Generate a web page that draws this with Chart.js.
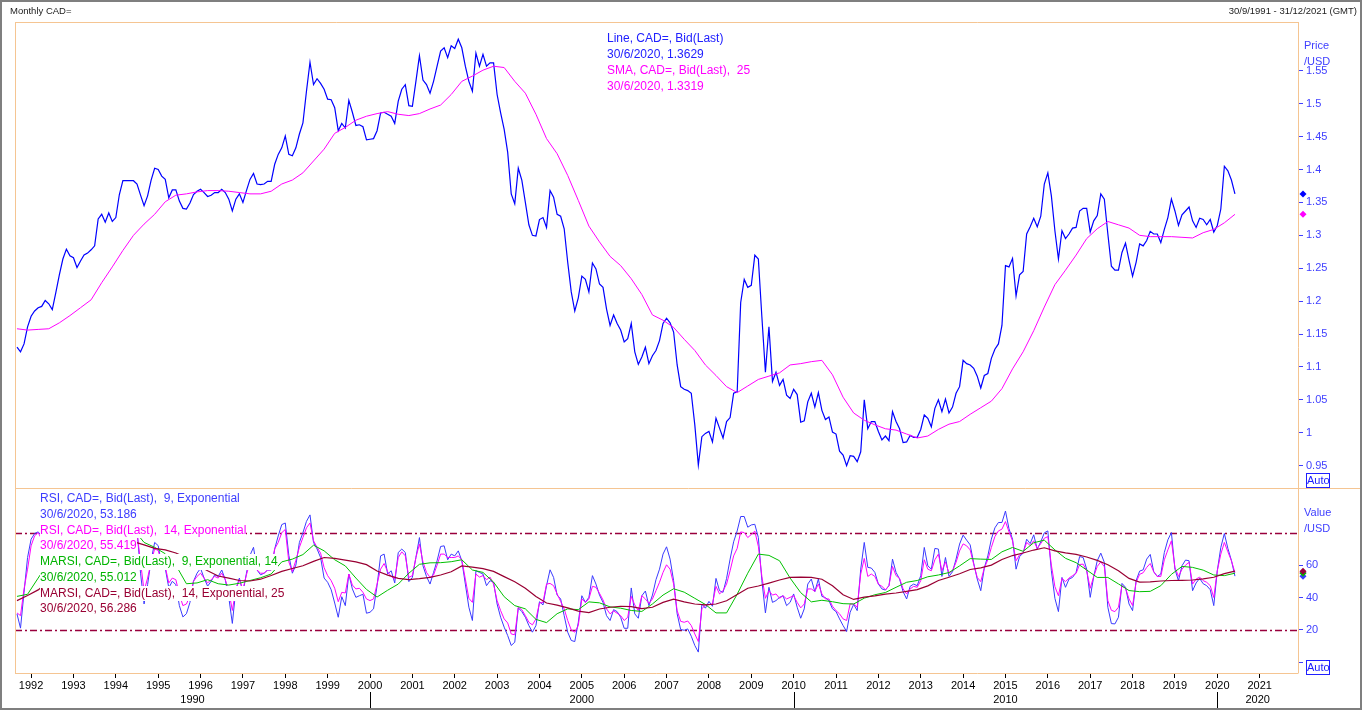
<!DOCTYPE html>
<html>
<head>
<meta charset="utf-8">
<title>Monthly CAD=</title>
<script src="https://cdn.jsdelivr.net/npm/chart.js@4.4.1/dist/chart.umd.min.js"></script>
<style>
  html, body { margin: 0; padding: 0; background: #fff; overflow: hidden; }
  #wrap { position: relative; width: 1362px; height: 710px; font-family: "Liberation Sans", Arial, sans-serif; }
  canvas { position: absolute; left: 0; top: 0; }
  .t { position: absolute; white-space: nowrap; }
  .hdr { font-size: 9.5px; line-height: 12px; color: #222; top: 5px; }
  .leg { font-size: 12px; }
  .leg span { display: block; width: fit-content; background: #fff; white-space: pre; }
  #legUp { left: 607px; top: 30px; line-height: 16px; }
  #legLow { left: 40px; top: 491px; line-height: 15.75px; }
  .axt { font-size: 11px; line-height: 16px; color: #4040ff; left: 1304px; }
  .auto { position: absolute; left: 1306px; width: 22px; height: 13px; border: 1px solid #2020ff;
          font-size: 11px; line-height: 13px; text-align: center; color: #2020ff; }
  .blue { color: #2020ff; } .rblue { color: #3c3cff; } .mag { color: #ff00ff; }
  .grn { color: #00b400; } .mar { color: #990033; }
</style>
</head>
<body>
<div id="wrap">
  <canvas id="c" width="1362" height="710"></canvas>

  <div class="t hdr" style="left:10px">Monthly CAD=</div>
  <div class="t hdr" style="right:5px">30/9/1991 - 31/12/2021 (GMT)</div>

  <div class="t leg" id="legUp"><span class="blue">Line, CAD=, Bid(Last)</span><span class="blue">30/6/2020, 1.3629</span><span class="mag">SMA, CAD=, Bid(Last),  25</span><span class="mag">30/6/2020, 1.3319</span></div>

  <div class="t leg" id="legLow"><span class="rblue">RSI, CAD=, Bid(Last),  9, Exponential</span><span class="rblue">30/6/2020, 53.186</span><span class="mag">RSI, CAD=, Bid(Last),  14, Exponential</span><span class="mag">30/6/2020, 55.419</span><span class="grn">MARSI, CAD=, Bid(Last),  9, Exponential, 14</span><span class="grn">30/6/2020, 55.012</span><span class="mar">MARSI, CAD=, Bid(Last),  14, Exponential, 25</span><span class="mar">30/6/2020, 56.286</span></div>

  <div class="t axt" style="top:37px">Price<br>/USD</div>
  <div class="t axt" style="top:504px">Value<br>/USD</div>
  <div class="auto" style="top:473px">Auto</div>
  <div class="auto" style="top:660px">Auto</div>
</div>

<script>
// monthly closes, first point Sep 1991
const START = 1991 + 8 / 12;

const price = [
  1.130, 1.123, 1.135, 1.161,
  1.177, 1.185, 1.190, 1.192, 1.201, 1.196, 1.187, 1.213, 1.240, 1.264, 1.279, 1.269,
  1.266, 1.251, 1.261, 1.270, 1.273, 1.278, 1.284, 1.325, 1.332, 1.320, 1.334, 1.321,
  1.327, 1.362, 1.383, 1.383, 1.383, 1.383, 1.378, 1.361, 1.345, 1.360, 1.384, 1.402,
  1.400, 1.390, 1.385, 1.357, 1.369, 1.369, 1.352, 1.341, 1.340, 1.349, 1.362, 1.367,
  1.370, 1.365, 1.359, 1.361, 1.365, 1.365, 1.370, 1.365, 1.355, 1.337, 1.355, 1.363,
  1.350, 1.368, 1.385, 1.394, 1.378, 1.377, 1.378, 1.382, 1.382, 1.408, 1.423, 1.433,
  1.451, 1.423, 1.421, 1.433, 1.454, 1.471, 1.519, 1.563, 1.529, 1.538, 1.531, 1.522,
  1.507, 1.506, 1.494, 1.459, 1.470, 1.463, 1.505, 1.487, 1.467, 1.468, 1.465, 1.445,
  1.446, 1.447, 1.459, 1.486, 1.487, 1.484, 1.481, 1.470, 1.504, 1.522, 1.529, 1.497,
  1.496, 1.534, 1.573, 1.536, 1.529, 1.516, 1.534, 1.557, 1.580, 1.585, 1.570, 1.588,
  1.584, 1.598, 1.585, 1.557, 1.534, 1.519, 1.577, 1.557, 1.575, 1.557, 1.562, 1.562,
  1.514, 1.486, 1.461, 1.426, 1.363, 1.348, 1.402, 1.384, 1.350, 1.316, 1.300, 1.299,
  1.324, 1.327, 1.312, 1.368, 1.358, 1.332, 1.329, 1.310, 1.259, 1.214, 1.185, 1.205,
  1.238, 1.233, 1.214, 1.258, 1.249, 1.226, 1.221, 1.188, 1.163, 1.179, 1.166, 1.156,
  1.138, 1.143, 1.166, 1.123, 1.104, 1.115, 1.130, 1.105, 1.117, 1.125, 1.140, 1.166,
  1.174, 1.167, 1.153, 1.103, 1.070, 1.066, 1.064, 1.060, 1.012, 0.951, 0.994, 0.999,
  1.002, 0.986, 1.022, 1.007, 0.992, 1.017, 1.023, 1.060, 1.062, 1.198, 1.233, 1.221,
  1.224, 1.270, 1.264, 1.176, 1.092, 1.161, 1.078, 1.092, 1.072, 1.081, 1.057, 1.052,
  1.066, 1.058, 1.016, 1.018, 1.047, 1.060, 1.039, 1.061, 1.034, 1.020, 1.024, 1.001,
  0.998, 0.972, 0.966, 0.950, 0.965, 0.964, 0.956, 0.971, 1.050, 1.006, 1.017, 1.017,
  1.002, 0.989, 0.995, 0.988, 1.032, 1.017, 1.006, 0.985, 0.986, 0.996, 0.993, 0.993,
  1.005, 1.027, 1.022, 1.009, 1.037, 1.050, 1.032, 1.051, 1.030, 1.039, 1.060, 1.070,
  1.110, 1.105, 1.103, 1.098, 1.086, 1.068, 1.087, 1.090, 1.113, 1.127, 1.135, 1.163,
  1.254, 1.252, 1.265, 1.208, 1.240, 1.245, 1.302, 1.313, 1.326, 1.313, 1.329, 1.378,
  1.395, 1.360, 1.307, 1.264, 1.307, 1.295, 1.302, 1.311, 1.312, 1.337, 1.341, 1.341,
  1.305, 1.322, 1.330, 1.363, 1.355, 1.302, 1.253, 1.247, 1.247, 1.274, 1.288, 1.262,
  1.238, 1.259, 1.287, 1.284, 1.292, 1.306, 1.302, 1.302, 1.289, 1.309, 1.327, 1.355,
  1.337, 1.315, 1.331, 1.337, 1.343, 1.322, 1.312, 1.326, 1.324, 1.316, 1.324, 1.305,
  1.315, 1.340, 1.405, 1.398, 1.384, 1.3629
];

// SMA 25 and the two MARSI lines read every 3rd month
const STEP = 3;
const sma = [
  1.158, 1.156, 1.157, 1.158, 1.167, 1.178, 1.190, 1.202, 1.228, 1.252, 1.277, 1.300,
  1.317, 1.332, 1.351, 1.361, 1.363, 1.366, 1.368, 1.368, 1.367, 1.365, 1.363, 1.363,
  1.367, 1.378, 1.384, 1.395, 1.413, 1.431, 1.455, 1.464, 1.475, 1.481, 1.485, 1.488,
  1.484, 1.482, 1.485, 1.492, 1.498, 1.514, 1.534, 1.542, 1.551, 1.557, 1.555, 1.534,
  1.516, 1.484, 1.447, 1.424, 1.391, 1.353, 1.314, 1.290, 1.268, 1.254, 1.234, 1.210,
  1.179, 1.171, 1.160, 1.142, 1.125, 1.103, 1.087, 1.070, 1.061, 1.071, 1.081, 1.086,
  1.091, 1.103, 1.105, 1.108, 1.110, 1.088, 1.054, 1.030, 1.019, 1.012, 1.006, 1.004,
  0.998, 0.992, 0.995, 1.005, 1.013, 1.017, 1.028, 1.038, 1.048, 1.067, 1.097, 1.123,
  1.155, 1.191, 1.225, 1.247, 1.270, 1.295, 1.310, 1.321, 1.316, 1.311, 1.300, 1.298,
  1.298, 1.298, 1.297, 1.296, 1.304, 1.309, 1.319, 1.3319
];

const rsi9 = [
  29.9, 21.1, 43.2, 64.7,
  76, 79.5, 80.5, 78, 80, 74, 62, 72, 80, 85, 87, 78,
  75, 62, 66, 70, 71, 73, 75, 86, 87, 77, 80, 70,
  72, 82, 87, 87, 87, 87, 82, 55, 36, 48, 63, 74,
  72, 60, 58, 46, 50, 48, 35, 28, 30, 37, 50, 55,
  58, 52, 47, 50, 54, 53, 57, 51, 40, 24, 45, 52,
  43, 55, 66, 71, 57, 54, 55, 57, 57, 70, 78, 85,
  86, 66, 55, 60, 74, 80, 87, 91, 74, 70, 64.7, 52,
  49.4, 44.8, 36.6, 27.8, 40.5, 35, 54.5, 45.3, 40.1, 41.1, 42, 30.3,
  30.9, 33, 47.3, 65.7, 66.8, 54.5, 56.5, 49, 67.8, 69.9, 67.8, 49.8,
  52.4, 64.7, 77, 59.6, 53, 48.3, 55.5, 62.7, 71.5, 71.9, 63.3, 66.8,
  65.7, 68.8, 62.7, 48.3, 34, 25.8, 56.5, 55.5, 54.5, 47.3, 50.4, 49.4,
  36, 27.8, 21.7, 16.5, 10.4, 12.4, 33.6, 31.3, 27.8, 22.7, 18.6, 22.7,
  37.4, 35.4, 47.3, 57.1, 52.4, 41.5, 39.1, 28.8, 18.6, 13.5, 12.8, 24.7,
  41.1, 37, 40.1, 53.5, 48.3, 41.5, 37, 28.8, 25.8, 32.5, 31.3, 27.8,
  21, 21, 45.9, 29.9, 27.2, 41.1, 44, 35, 41.5, 51, 57.5, 66.8,
  71.3, 63.7, 50.4, 29.9, 20.2, 19.8, 20.6, 16.1, 10.4, 6.3, 36, 33.4,
  37.6, 34.6, 51.8, 44.2, 43.2, 51.8, 63.7, 74.4, 81.1, 90, 90, 83.4,
  84.8, 85.2, 77, 50.4, 30.5, 46.3, 37, 38.1, 40.1, 41.1, 35, 37,
  42.2, 34, 27.2, 33, 48.3, 51.4, 43.6, 51.4, 40.7, 39.9, 38.1, 33,
  31.3, 26.8, 22.7, 19, 30.9, 35.8, 31.9, 57.5, 74, 58.6, 58.2, 55.5,
  48.3, 45.3, 44.6, 47.3, 63.7, 55.5, 51.4, 43.6, 39.1, 46.9, 48.3, 47.3,
  53.5, 70.9, 59.6, 57.5, 70.3, 69.9, 53, 64.7, 53, 55.9, 63.7, 73,
  78.5, 75.4, 72.5, 61.2, 51.4, 44.2, 58.2, 65.7, 76, 83, 86.3, 86.3,
  93.4, 82.4, 76, 57.5, 65.3, 67.4, 76, 73.3, 78.7, 69.9, 74.4, 79.9,
  81.1, 56.5, 39.5, 31.3, 52.4, 46.3, 51.4, 52.4, 55.5, 65.3, 64.7, 57.5,
  40.1, 53, 62.7, 67.4, 61.7, 34, 23.9, 23.7, 27.8, 48.7, 46.3, 36,
  31.9, 50.4, 56.3, 57.1, 63.7, 66.6, 55.9, 53, 54.5, 67.8, 75.6, 80.1,
  57.5, 50.4, 59.6, 63.1, 62.7, 44.2, 49, 51.8, 48.5, 47.3, 44.8, 35,
  56.5, 70.9, 79.5, 70.3, 62.9, 53.186
];

const rsi14 = [
  30.5, 28.8, 45.3, 57.5,
  71.9, 78.1, 80.1, 76, 77, 73, 65, 70, 76, 80, 82, 76,
  74, 65, 67, 70, 71, 72, 73, 81, 82, 76, 78, 72,
  73, 79, 83, 83, 83, 83, 80, 62, 44, 52, 62, 70,
  69, 61, 59, 49, 52, 51, 42, 35, 36, 41, 50, 53,
  55, 52, 49, 51, 53, 52, 55, 51, 44, 32, 45, 51,
  45, 54, 62, 66, 57, 55, 55, 57, 57, 70, 74, 80,
  82, 62, 56, 63, 71, 77, 83, 86, 75, 71, 67.4, 58.4,
  53.5, 50.4, 45.7, 37.4, 43.2, 42.8, 54.5, 47.7, 45.3, 45.7, 43.2, 39.1,
  38.1, 39.1, 48.3, 57.5, 61, 55.9, 53, 51.4, 64.7, 68.2, 65.7, 52.4,
  53.5, 64.7, 73, 62, 55.5, 52.4, 53.9, 60, 66.8, 66.8, 64.7, 64.7,
  64.7, 65.7, 63.3, 51.4, 39.5, 37, 54.5, 52.6, 53.5, 51, 52.6, 48.3,
  38.1, 31.9, 26.8, 24.3, 17.5, 17, 34, 32.5, 28.8, 24.7, 23.1, 26.8,
  36.6, 37, 48.3, 48.7, 47.3, 42.2, 37.6, 33, 25.8, 20, 18.6, 22.7,
  39.1, 37, 39.1, 46.9, 46.3, 42.6, 38.5, 33, 29.9, 31.7, 30.3, 28.8,
  25.8, 27.8, 40.7, 35.4, 31.9, 41.1, 39.1, 36.4, 39.1, 44.2, 49.4, 55.5,
  60.2, 57.5, 48.3, 31.9, 25.3, 24.7, 25.5, 22.7, 17.5, 12.8, 33, 35.4,
  35.6, 36, 46.9, 42.2, 44.2, 48.3, 56.5, 65.7, 70.3, 80.5, 80.1, 77,
  78.9, 81, 71.5, 53, 39.5, 44.2, 41.5, 42.2, 39.5, 41.1, 39.1, 40.1,
  41.1, 37, 33.6, 36, 45.3, 45.3, 43.8, 48.3, 42.2, 39.1, 39.1, 34.6,
  31.9, 29.9, 26.8, 25.8, 36, 36, 34, 54.5, 64.1, 53, 54.5, 53,
  48.3, 46.9, 44.8, 47.3, 59.2, 53.5, 51.8, 45.3, 42.2, 45.3, 46.9, 46.3,
  50.4, 63.3, 57.5, 56.5, 63.3, 66.8, 56.5, 62, 54.9, 56.7, 61.7, 68.8,
  73.1, 71.9, 69.4, 60.6, 52.4, 49.8, 58.2, 63.3, 70.9, 77.6, 81.1, 82.2,
  86.9, 80.5, 75, 62.7, 66.4, 67.6, 74, 72.1, 75, 70.3, 73.3, 76.6,
  77.6, 60, 46.7, 41.1, 51.8, 49.8, 52, 53.5, 54.9, 60.4, 60.6, 56.5,
  45.7, 53, 59.2, 62, 59, 38.1, 32.1, 31.3, 34, 47.3, 45.7, 39.1,
  35, 49.4, 54.3, 55.3, 58.6, 61, 55.9, 53, 53, 63.3, 69.4, 75,
  58.6, 53, 57.5, 60, 61.7, 48.3, 51.4, 52.6, 50.4, 49.4, 47.3, 40,
  56.5, 66.8, 74, 68.2, 62.7, 55.419
];

const marsi9 = [
  40.7, 42, 52, 62, 68, 76, 70, 71, 78, 76, 80, 82,
  74, 71, 67, 60, 48.5, 49, 51, 48.5, 47.7, 48.8, 50.5, 52.2,
  54.5, 62, 63.7, 66.5, 72.3, 68.8, 63.3, 59.5, 52, 45, 40.3, 44.5,
  48.3, 55, 60.5, 61.4, 61.5, 62.1, 63.3, 57, 55.5, 49.5, 40.5, 35,
  33, 26.5, 24.5, 30, 33, 32.5, 37.3, 36.7, 34.2, 33.4, 32, 31.4,
  36, 41.5, 45.4, 43.3, 39.5, 35.7, 30.5, 30.5, 42, 55, 66.8, 66,
  62.7, 52, 43, 37.3, 38.3, 37.4, 36.2, 36, 39.6, 41.7, 43.1, 46.3,
  49.4, 50.5, 52.8, 53.9, 55.4, 59.5, 64, 63.7, 63.5, 68.2, 70.9, 68.5,
  73.8, 75.4, 69.4, 64.2, 61.5, 57, 52.4, 52.4, 48.4, 44.3, 43.6, 43.8,
  47.3, 54.3, 59.2, 58.6, 56.9, 53.9, 53.5, 55.012
];

const marsi14 = [
  38.1, 41.2, 44.7, 50, 56, 62, 64, 66, 70, 71, 73, 74.5,
  72.5, 70.3, 69.4, 67.5, 64.5, 60, 56.5, 53.3, 52, 50.5, 50.2, 51.3,
  53.6, 56.1, 57.9, 59.6, 62.3, 64.7, 64.2, 63.1, 62, 60.3, 56.4, 53.8,
  51.8, 51.1, 51.6, 52.4, 53.9, 55.9, 59.5, 58.8, 57.8, 56.1, 52.9, 49.7,
  45.7, 40.6, 36.6, 35.3, 33.6, 31.6, 30.7, 32.9, 34, 34.6, 34.4, 33.1,
  34, 37, 39, 37.3, 36, 35.4, 36, 38, 41.8, 45.7, 47.1, 48.9,
  50.8, 52.4, 52.6, 52.4, 51.3, 47.2, 41.7, 38.8, 40.2, 41, 42.1, 42.8,
  43.8, 44.9, 47.2, 50.5, 52.5, 54.7, 57.3, 58.3, 60, 63.5, 65.9, 67.5,
  69.3, 70.7, 68.8, 67.5, 66.6, 65, 62.9, 60.2, 56.5, 51.8, 49.5, 49.6,
  50.2, 50.5, 50.6, 50.8, 51.5, 52.5, 54.7, 56.286
];

const yearTicks = [];
for (let y = 1992; y <= 2021; y++) yearTicks.push(y);
const decades = [1990, 2000, 2010, 2020];
const priceTicks = [0.95, 1, 1.05, 1.1, 1.15, 1.2, 1.25, 1.3, 1.35, 1.4, 1.45, 1.5, 1.55];
const valueTicks = [0, 20, 40, 60];
const refLevels = [80, 20];

const FONT = '"Liberation Sans", Arial, sans-serif';
const AXIS_BLUE = '#4040ff';
const FRAME = '#f5c592';

const monthly = (arr, step) => arr.map((v, i) => ({ x: START + (i * step) / 12, y: v }));

const panels = {
    id: 'panels',
    beforeDatasetsDraw(chart) {
        const { ctx, chartArea } = chart;
        const yv = chart.scales.yV;
        ctx.save();
        ctx.strokeStyle = '#99003d';
        ctx.lineWidth = 1.5;
        ctx.setLineDash([7, 3, 2, 3]);
        refLevels.forEach(v => {
            const y = Math.round(yv.getPixelForValue(v)) + 0.5;
            ctx.beginPath();
            ctx.moveTo(chartArea.left, y);
            ctx.lineTo(chartArea.right, y);
            ctx.stroke();
        });
        ctx.restore();
    },
    afterDraw(chart) {
        const { ctx, chartArea } = chart;
        const { left, right, top, bottom } = chartArea;
        const split = chart.scales.yV.top;
        ctx.save();

        // plot frames
        ctx.strokeStyle = FRAME;
        ctx.lineWidth = 1;
        ctx.beginPath();
        ctx.moveTo(left + 0.5, top + 0.5); ctx.lineTo(right + 0.5, top + 0.5);
        ctx.moveTo(left + 0.5, top); ctx.lineTo(left + 0.5, bottom);
        ctx.moveTo(right + 0.5, top); ctx.lineTo(right + 0.5, bottom);
        ctx.moveTo(left, bottom + 0.5); ctx.lineTo(right + 0.5, bottom + 0.5);
        ctx.moveTo(left, Math.round(split) + 0.5); ctx.lineTo(chart.width, Math.round(split) + 0.5);
        ctx.stroke();

        // outer window frame
        ctx.strokeStyle = '#7f7f7f';
        ctx.lineWidth = 2;
        ctx.strokeRect(1, 1, chart.width - 2, chart.height - 2);

        // decade row under the years
        const xs = chart.scales.x;
        ctx.font = '11px ' + FONT;
        ctx.fillStyle = '#000';
        ctx.textAlign = 'center';
        ctx.textBaseline = 'middle';
        ctx.strokeStyle = '#000';
        ctx.lineWidth = 1;
        decades.forEach(d => {
            const a = Math.max(d, xs.min), b = Math.min(d + 10, xs.max);
            ctx.fillText(String(d), xs.getPixelForValue((a + b) / 2), 700);
            if (d > xs.min) {
                const px = Math.round(xs.getPixelForValue(d)) + 0.5;
                ctx.beginPath();
                ctx.moveTo(px, 692);
                ctx.lineTo(px, 708);
                ctx.stroke();
            }
        });

        // last-value markers
        const diamond = (y, color) => {
            const x = right + 5;
            ctx.fillStyle = color;
            ctx.beginPath();
            ctx.moveTo(x, y - 3.5); ctx.lineTo(x + 3.5, y); ctx.lineTo(x, y + 3.5); ctx.lineTo(x - 3.5, y);
            ctx.closePath();
            ctx.fill();
        };
        const yp = chart.scales.yP, yv = chart.scales.yV;
        diamond(yp.getPixelForValue(price[price.length - 1]), '#0000ff');
        diamond(yp.getPixelForValue(sma[sma.length - 1]), '#ff00ff');
        diamond(yv.getPixelForValue(rsi9[rsi9.length - 1]), '#3a3aff');
        diamond(yv.getPixelForValue(rsi14[rsi14.length - 1]), '#ff00ff');
        diamond(yv.getPixelForValue(marsi9[marsi9.length - 1]), '#00b400');
        diamond(yv.getPixelForValue(marsi14[marsi14.length - 1]), '#99003d');
        ctx.restore();
    }
};

const rightAxis = (min, max, ticks, fmt, weight) => ({
    type: 'linear',
    position: 'right',
    stack: 'panels',
    stackWeight: weight,
    min: min,
    max: max,
    afterFit: s => { s.width = 64; },
    afterBuildTicks: s => { s.ticks = ticks.map(v => ({ value: v })); },
    border: { display: false },
    grid: { drawOnChartArea: false, drawTicks: true, tickLength: 5, tickColor: AXIS_BLUE, color: AXIS_BLUE },
    ticks: { color: AXIS_BLUE, font: { family: FONT, size: 11 }, padding: 3, callback: fmt }
});

new Chart(document.getElementById('c'), {
    type: 'line',
    data: {
        datasets: [
            { label: 'Line, CAD=, Bid(Last)', data: monthly(price, 1), yAxisID: 'yP',
              borderColor: '#0000ff', borderWidth: 1.2, order: 2 },
            { label: 'SMA, CAD=, Bid(Last), 25', data: monthly(sma, STEP), yAxisID: 'yP',
              borderColor: '#ff00ff', borderWidth: 1, order: 1 },
            { label: 'RSI 9', data: monthly(rsi9, 1), yAxisID: 'yV',
              borderColor: '#3a3aff', borderWidth: 1, order: 6 },
            { label: 'RSI 14', data: monthly(rsi14, 1), yAxisID: 'yV',
              borderColor: '#ff00ff', borderWidth: 1, order: 5 },
            { label: 'MARSI 9', data: monthly(marsi9, STEP), yAxisID: 'yV',
              borderColor: '#00c000', borderWidth: 1, order: 4 },
            { label: 'MARSI 14', data: monthly(marsi14, STEP), yAxisID: 'yV',
              borderColor: '#990033', borderWidth: 1.2, order: 3 }
        ]
    },
    options: {
        responsive: false,
        animation: false,
        events: [],
        layout: { autoPadding: false, padding: { left: 15, top: 22, right: 0, bottom: 0 } },
        elements: { point: { radius: 0 }, line: { tension: 0 } },
        plugins: { legend: { display: false }, tooltip: { enabled: false } },
        scales: {
            x: {
                type: 'linear',
                position: 'bottom',
                min: 1991.62,
                max: 2021.905,
                afterFit: s => { s.height = 37; },
                afterBuildTicks: s => { s.ticks = yearTicks.map(v => ({ value: v })); },
                border: { display: false },
                grid: { drawOnChartArea: false, tickLength: 5, tickColor: '#000' },
                ticks: { color: '#000', font: { family: FONT, size: 11 }, padding: 1,
                         autoSkip: false, maxRotation: 0, callback: v => String(v) }
            },
            yP: rightAxis(0.916, 1.6242, priceTicks, v => String(+v.toFixed(2)), 466),
            yV: rightAxis(-6.6, 107.6, valueTicks, v => (v === 0 ? '' : String(v)), 185)
        }
    },
    plugins: [panels]
});
</script>
</body>
</html>
